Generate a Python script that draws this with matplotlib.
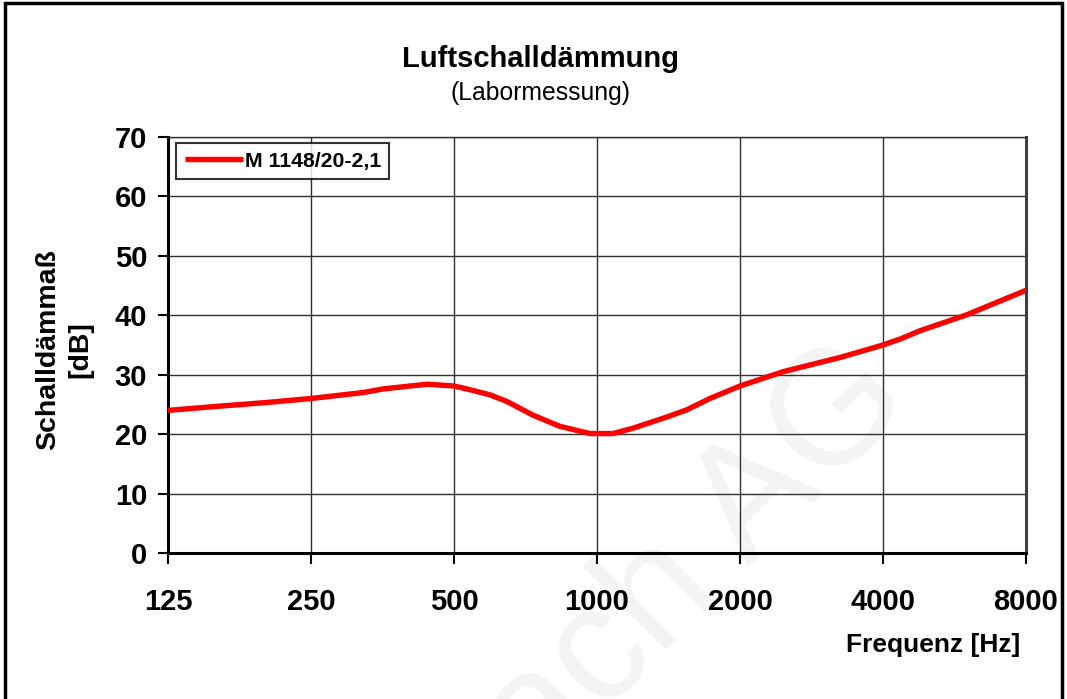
import matplotlib
matplotlib.use("Agg")
import matplotlib.pyplot as plt
from matplotlib.patches import Rectangle
from matplotlib.ticker import FixedLocator, NullLocator

plt.rcParams['font.family'] = ['Liberation Sans', 'DejaVu Sans']

# -------------------------------
# Data
# -------------------------------
freq = [125, 160, 200, 250, 322, 354, 404, 440, 500, 539, 596, 646,
        733, 836, 967, 1081, 1191, 1405, 1546, 1729, 2000, 2463, 3248,
        4000, 4345, 4787, 6011, 8000]
r_db = [24.0, 24.7, 25.3, 26.0, 27.0, 27.6, 28.1, 28.4, 28.1, 27.5, 26.6, 25.5,
        23.2, 21.3, 20.1, 20.1, 21.0, 22.9, 24.1, 26.0, 28.1, 30.5, 32.9,
        35.0, 36.0, 37.4, 40.1, 44.2]

x_ticks = [125, 250, 500, 1000, 2000, 4000, 8000]
y_ticks = [0, 10, 20, 30, 40, 50, 60, 70]
series_name = "M 1148/20-2,1"

W, H = 1067, 699
fig = plt.figure(figsize=(W / 100, H / 100), dpi=100)

# faint watermark behind everything
fig.text(885 / W, 1 - 372 / H, "ach AG", fontsize=117, color="#f4f4f4",
         rotation=45, rotation_mode="anchor", ha="right", va="center",
         zorder=-10)

ax = fig.add_axes([168 / W, 1 - 553 / H, (1026 - 168) / W, (553 - 137) / H])
ax.patch.set_alpha(0)

ax.plot(freq, r_db, color="#ff0000", lw=3.9, solid_capstyle="butt",
        label=series_name, zorder=3)

ax.set_xscale("log", base=2)
ax.set_xlim(125, 8000)
ax.set_ylim(0, 70)
ax.xaxis.set_major_locator(FixedLocator(x_ticks))
ax.xaxis.set_minor_locator(NullLocator())
ax.set_xticklabels([str(v) for v in x_ticks])
ax.set_yticks(y_ticks)

ax.grid(True, color="#303030", lw=1.0)
ax.set_axisbelow(True)
ax.tick_params(axis="x", direction="out", length=8, width=1.5, pad=17,
               labelsize=21)
ax.tick_params(axis="y", direction="out", length=7, width=1.5, pad=8,
               labelsize=21)
for lab in ax.get_xticklabels() + ax.get_yticklabels():
    lab.set_fontweight("bold")

for side in ["left", "bottom"]:
    ax.spines[side].set_linewidth(2.2)
ax.spines["right"].set_linewidth(2.2)
ax.spines["right"].set_color("#404040")
ax.spines["top"].set_linewidth(1.0)
ax.spines["top"].set_color("#303030")

# legend
leg = ax.legend(loc="upper left", bbox_to_anchor=(8 / 858, 1 - 6 / 416),
                borderaxespad=0, frameon=True, fancybox=False,
                prop={"weight": "bold", "size": 15.3},
                handlelength=2.75, handletextpad=0.08, borderpad=0.4)
leg.get_frame().set_edgecolor("black")
leg.get_frame().set_linewidth(1.5)

# titles and axis labels
fig.text(541 / W, 1 - 59 / H, "Luftschalldämmung", fontsize=21,
         fontweight="bold", ha="center", va="center")
fig.text(541 / W, 1 - 93 / H, "(Labormessung)", fontsize=17.8,
         ha="center", va="center")
fig.text(1020 / W, 1 - 645 / H, "Frequenz [Hz]", fontsize=19,
         fontweight="bold", ha="right", va="center")
fig.text(64 / W, 1 - 350 / H, "Schalldämmaß\n[dB]", fontsize=20.5,
         fontweight="bold", ha="center", va="center", rotation=90,
         linespacing=1.3)

# outer frame
fig.add_artist(Rectangle((5 / W, -0.02), (1062 - 5) / W, 1.02 - 3 / H,
                         transform=fig.transFigure, fill=False,
                         edgecolor="black", lw=2.5))

fig.savefig("out.png", dpi=100)
